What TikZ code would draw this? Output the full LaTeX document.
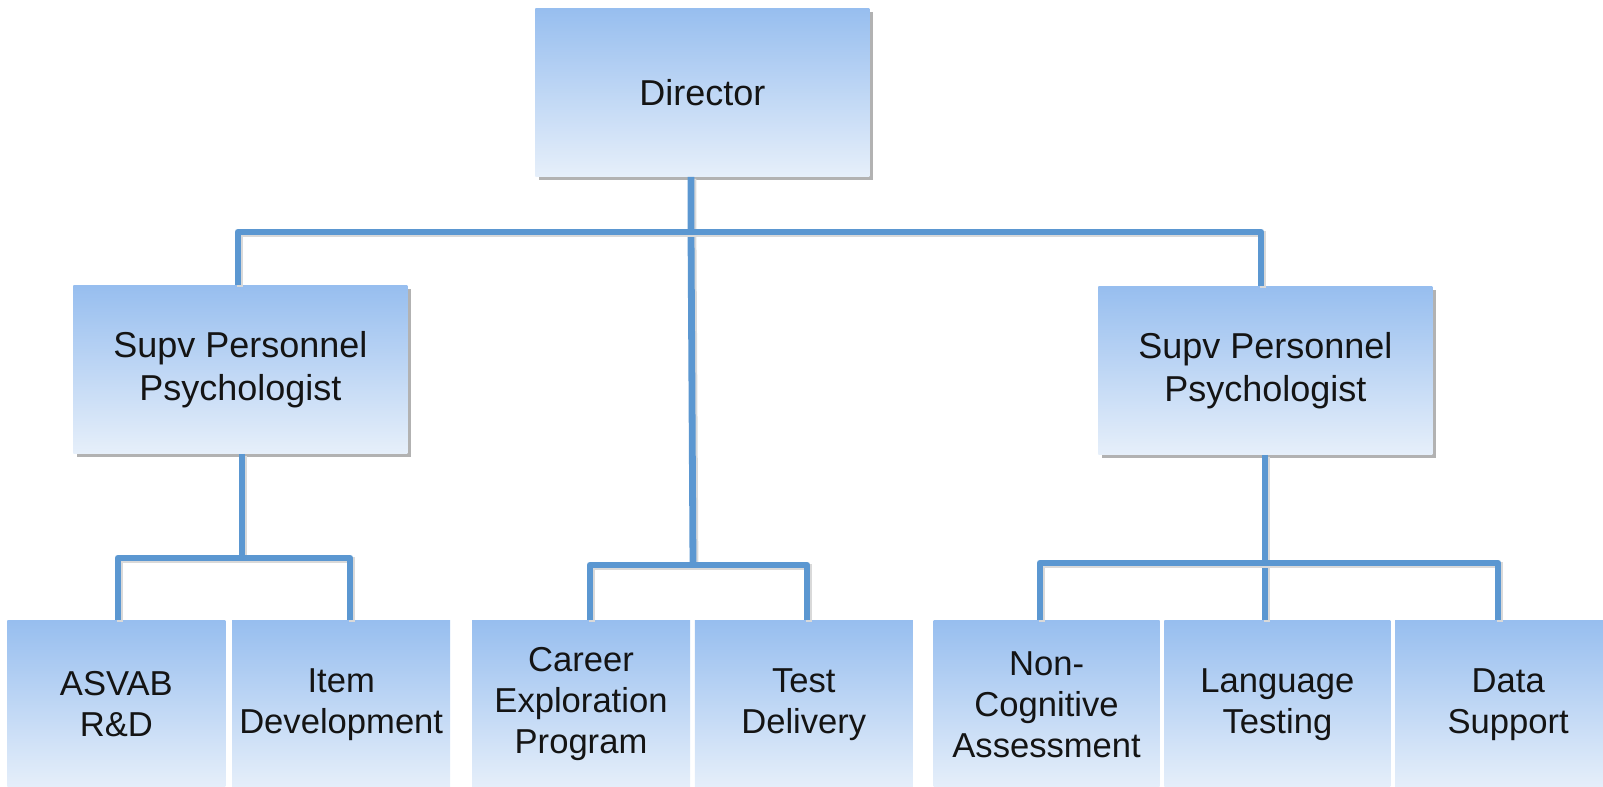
\documentclass[tikz,border=0pt]{standalone}
\usepackage{fontspec}
\setmainfont{Liberation Sans}
\usetikzlibrary{positioning, shadows}
\definecolor{boxtop}{HTML}{97BEEF}
\definecolor{boxmid}{HTML}{B4D0F3}
\definecolor{boxbot}{HTML}{E6EFFA}
\definecolor{linkblue}{HTML}{5B97D1}

\begin{document}
\begin{tikzpicture}[
    x=0.5pt, y=-0.5pt,
    unit/.style={rectangle, inner sep=2pt, align=center,
                 minimum width=109pt, minimum height=84pt,
                 top color=boxtop, middle color=boxmid, bottom color=boxbot,
                 font=\fontsize{17.3}{20.5}\selectfont, text=black!92},
    wide/.style={unit, minimum width=113pt},
    head/.style={unit, minimum width=167pt,
                 font=\fontsize{18}{21.5}\selectfont,
                 drop shadow={shadow xshift=1.8pt, shadow yshift=-1.8pt,
                              fill=black!55, opacity=0.55}},
    link/.style={draw=linkblue, line width=3.4pt, line join=round,
                 preaction={draw=black!15, line width=3.4pt,
                            transform canvas={xshift=1pt, yshift=-1pt}}}
]
  \path[use as bounding box, clip] (0,0) rectangle (1603,787);

  % top of the chart
  \node[head, anchor=north west] (dir)   at (535,8)    {Director};
  \node[head, anchor=north west] (supvL) at (73,285)   {Supv Personnel\\Psychologist};
  \node[head, anchor=north west] (supvR) at (1098,286) {Supv Personnel\\Psychologist};

  % bottom row
  \node[unit, anchor=north west] (asvab)  at (7,620) {ASVAB\\R\&D};
  \node[unit, right=3pt of asvab]  (item)   {Item\\Development};
  \node[unit, right=10.5pt of item] (career) {Career\\Exploration\\Program};
  \node[unit, right=2pt of career] (test)   {Test\\Delivery};
  \node[wide, right=10pt of test]  (noncog) {Non-\\Cognitive\\Assessment};
  \node[wide, right=2pt of noncog] (lang)   {Language\\Testing};
  \node[wide, right=2pt of lang]   (data)   {Data\\Support};

  % bus lines
  \coordinate (topL)   at (238,232);
  \coordinate (topHub) at (691,232);
  \coordinate (topR)   at (1261,232);
  \coordinate (leftL)   at (118,558);
  \coordinate (leftHub) at (242,558);
  \coordinate (leftR)   at (350,558);
  \coordinate (midL)   at (590,565);
  \coordinate (midHub) at (693,565);
  \coordinate (midR)   at (807,565);
  \coordinate (rightL)   at (1040,563);
  \coordinate (rightHub) at (1265,563);
  \coordinate (rightR)   at (1498,563);

  \draw[link] (dir.south -| topHub) -- (topHub) -- (midHub);
  \draw[link] (supvL.north -| topL) -- (topL) -- (topR) -- (supvR.north -| topR);

  \draw[link] (supvL.south -| leftHub) -- (leftHub);
  \draw[link] (asvab.north -| leftL) -- (leftL) -- (leftR) -- (item.north -| leftR);

  \draw[link] (career.north -| midL) -- (midL) -- (midR) -- (test.north -| midR);

  \draw[link] (supvR.south -| rightHub) -- (rightHub) -- (lang.north -| rightHub);
  \draw[link] (noncog.north -| rightL) -- (rightL) -- (rightR) -- (data.north -| rightR);
\end{tikzpicture}
\end{document}
